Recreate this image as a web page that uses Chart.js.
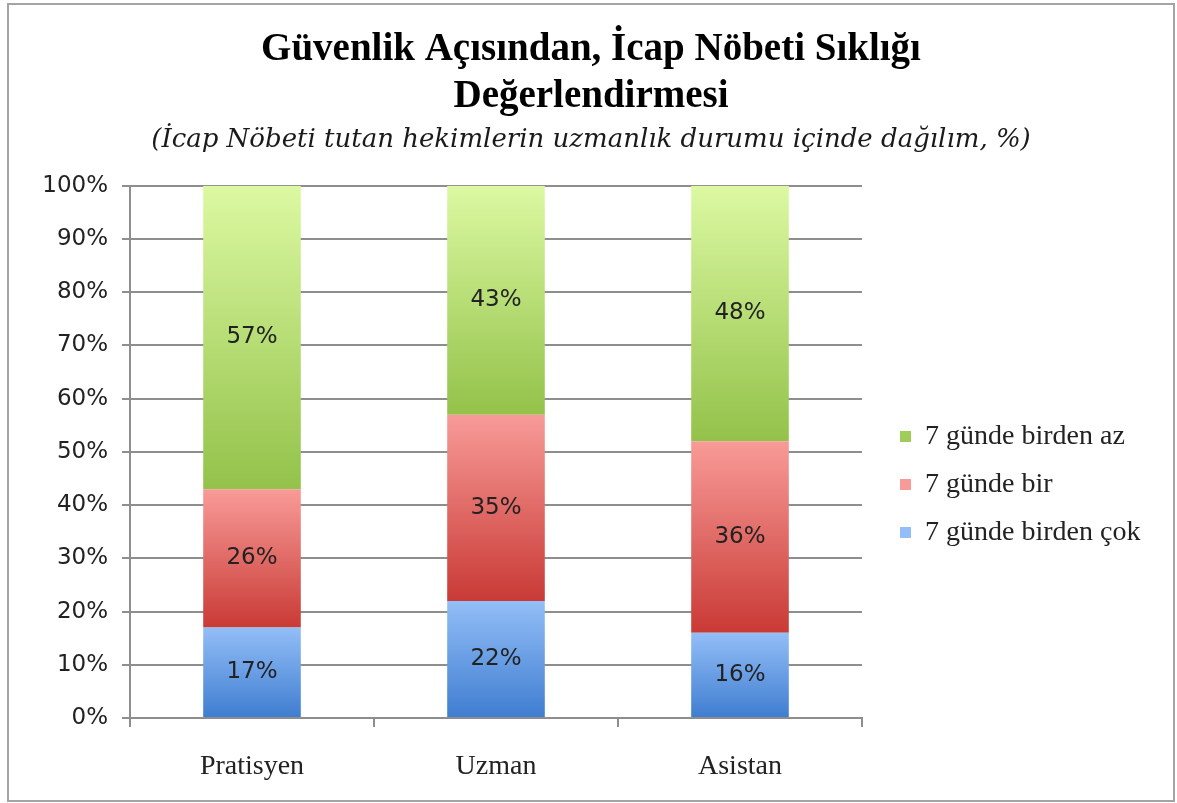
<!DOCTYPE html>
<html>
<head>
<meta charset="utf-8">
<script src="https://cdn.jsdelivr.net/npm/chart.js@4/dist/chart.umd.min.js"></script>
<style>
  html, body { margin: 0; padding: 0; background: #fff; }
  #frame {
    position: absolute; left: 7px; top: 3px;
    width: 1168px; height: 799px;
    box-sizing: border-box;
    border: 2px solid #a4a4a4;
  }
  #grafico { display: block; }
</style>
</head>
<body>
<div id="frame"><canvas id="grafico" width="1164" height="795"></canvas></div>
<script>
// --- dados ---
const categorias = ['Pratisyen', 'Uzman', 'Asistan'];
const serieCok = [17, 22, 16];   // 7 günde birden çok
const serieBir = [26, 35, 36];   // 7 günde bir
const serieAz  = [57, 43, 48];   // 7 günde birden az
const rotulosY = ['0%', '10%', '20%', '30%', '40%', '50%', '60%', '70%', '80%', '90%', '100%'];

const series = [serieCok, serieBir, serieAz];

// cores do degradê (topo -> base) de cada série
const cores = [
    { topo: '#93bef7', base: '#3f7dd0', plana: '#6a9de4' },
    { topo: '#f89b98', base: '#c93a35', plana: '#e06560' },
    { topo: '#dcf9a2', base: '#93c24a', plana: '#b5dc73' }
];

function degrade(idx) {
    return function(ctx) {
        const c = cores[idx];
        if (ctx.type !== 'data') return c.plana;
        const chart = ctx.chart;
        if (!chart.chartArea || !chart.scales.y) return c.plana;
        let inicio = 0;
        for (let k = 0; k < idx; k++) inicio += series[k][ctx.dataIndex];
        const fim = inicio + series[idx][ctx.dataIndex];
        const y = chart.scales.y;
        const topo = y.getPixelForValue(fim);
        const base = y.getPixelForValue(inicio);
        if (!isFinite(topo) || !isFinite(base)) return c.plana;
        const g = chart.ctx.createLinearGradient(0, topo, 0, base);
        g.addColorStop(0, c.topo);
        g.addColorStop(1, c.base);
        return g;
    };
}

// plugin simples para escrever os valores no meio de cada segmento
const rotulosValores = {
    id: 'rotulosValores',
    afterDatasetsDraw(chart) {
        const { ctx } = chart;
        ctx.save();
        ctx.font = '23px "DejaVu Sans", sans-serif';
        ctx.fillStyle = '#222';
        ctx.textAlign = 'center';
        ctx.textBaseline = 'middle';
        chart.data.datasets.forEach((ds, i) => {
            const meta = chart.getDatasetMeta(i);
            meta.data.forEach((el, j) => {
                const p = el.getCenterPoint();
                ctx.fillText(ds.data[j] + '%', p.x, p.y);
            });
        });
        ctx.restore();
    }
};

// legenda: largura fixa e deslocada para ficar como no original
const ajusteLegenda = {
    id: 'ajusteLegenda',
    beforeLayout(chart) {
        const lg = chart.legend;
        if (lg && !lg._fitOriginal) {
            lg._fitOriginal = lg.fit;
            lg.fit = function() {
                this._fitOriginal();
                this.width = 311;
            };
        }
    },
    afterLayout(chart) {
        const lg = chart.legend;
        if (!lg) return;
        lg.left += 18; lg.right += 18;
        lg.top += 82; lg.bottom += 82;
    }
};

const corGrade = '#8e8e8e';

new Chart(document.getElementById('grafico'), {
    type: 'bar',
    data: {
        labels: categorias,
        datasets: [
            { label: '7 günde birden çok', data: serieCok, backgroundColor: degrade(0) },
            { label: '7 günde bir', data: serieBir, backgroundColor: degrade(1) },
            { label: '7 günde birden az', data: serieAz, backgroundColor: degrade(2) }
        ]
    },
    options: {
        responsive: false,
        animation: false,
        devicePixelRatio: 1,
        datasets: { bar: { categoryPercentage: 1, barPercentage: 0.4 } },
        layout: { padding: 0 },
        plugins: {
            tooltip: { enabled: false },
            title: {
                display: true,
                text: ['Güvenlik Açısından, İcap Nöbeti Sıklığı', 'Değerlendirmesi'],
                color: '#000',
                font: { family: '"Liberation Serif", serif', size: 39, weight: 'bold', lineHeight: 1.2 },
                padding: { top: 22, bottom: 0 }
            },
            subtitle: {
                display: true,
                text: '(İcap Nöbeti tutan hekimlerin uzmanlık durumu içinde dağılım, %)',
                color: '#1a1a1a',
                font: { family: '"DejaVu Serif", serif', size: 26, style: 'italic', lineHeight: 1.2 },
                padding: { top: 4, bottom: 30 }
            },
            legend: {
                position: 'right',
                reverse: true,
                labels: {
                    color: '#222',
                    boxWidth: 11,
                    boxHeight: 11,
                    padding: 20,
                    font: { family: '"Liberation Serif", serif', size: 28 }
                }
            }
        },
        scales: {
            x: {
                stacked: true,
                afterFit(scale) { scale.height = 82; },
                grid: { display: true, drawOnChartArea: false, drawTicks: true, tickLength: 9, color: corGrade, lineWidth: 2, offset: true },
                border: { display: true, color: corGrade, width: 2 },
                ticks: { color: '#222', padding: 23, font: { family: '"Liberation Serif", serif', size: 28 } }
            },
            y: {
                stacked: true,
                min: 0,
                max: 100,
                afterFit(scale) { scale.width = 121; },
                grid: { color: corGrade, lineWidth: 2, tickLength: 8 },
                border: { display: true, color: corGrade, width: 2 },
                ticks: {
                    stepSize: 10,
                    color: '#222',
                    padding: 14,
                    font: { family: '"DejaVu Sans", sans-serif', size: 23 },
                    callback: (v, i) => rotulosY[i]
                }
            }
        }
    },
    plugins: [rotulosValores, ajusteLegenda]
});
</script>
</body>
</html>
